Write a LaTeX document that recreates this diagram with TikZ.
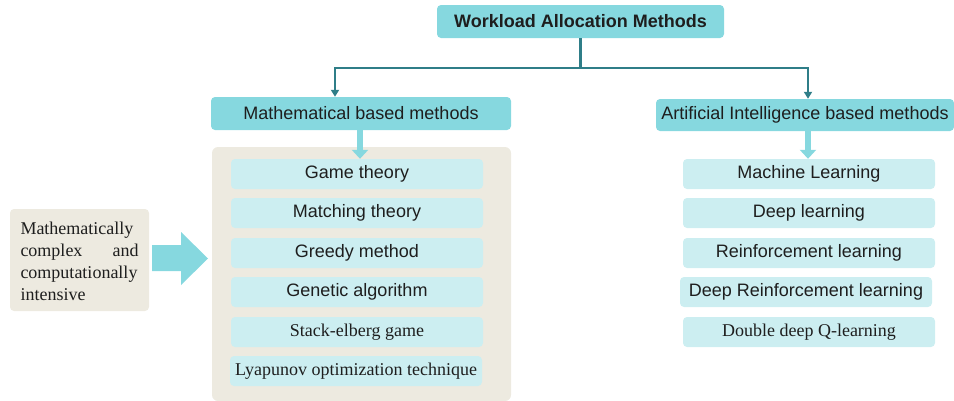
\documentclass[tikz,border=0pt]{standalone}
\usepackage{fontspec}
\setmainfont{Liberation Serif}
\newfontfamily\arialf{Liberation Sans}
\usetikzlibrary{arrows.meta}
\definecolor{headc}{HTML}{86D8DF}
\definecolor{itemc}{HTML}{CCEEF1}
\definecolor{panelc}{HTML}{EDEAE0}
\definecolor{tealc}{HTML}{2F7E88}
\definecolor{txtc}{HTML}{1E1E1E}
\tikzset{
  x=1pt, y=-1pt,
  headbox/.style={rectangle, rounded corners=4pt, fill=headc, inner sep=0pt, text=txtc, font=\arialf\fontsize{18}{21}\selectfont},
  itembox/.style={rectangle, rounded corners=4pt, fill=itemc, inner sep=0pt, minimum width=252pt, minimum height=30pt, text=txtc, font=\arialf\fontsize{18}{21}\selectfont},
  seriftext/.style={font=\fontsize{18}{21}\selectfont},
  conn/.style={draw=tealc, line width=2.8pt, -{Triangle[length=7pt,width=8pt]}},
  bigarrow/.style={draw=headc, line width=6pt, -{Triangle[length=9pt,width=16pt]}},
}
\begin{document}
\begin{tikzpicture}
\useasboundingbox (0,0) rectangle (954,400);
% header
\node[headbox, minimum width=287pt, minimum height=33pt, font=\arialf\bfseries\fontsize{18}{21}\selectfont] (top) at (580.5,21.5) {Workload Allocation Methods};
\node[headbox, minimum width=300pt, minimum height=33pt] (math) at (361,113.5) {Mathematical based methods};
\node[headbox, minimum width=298pt, minimum height=32pt] (ai) at (805,115) {Artificial Intelligence based methods};
% panel
\node[rectangle, rounded corners=6pt, fill=panelc, minimum width=299pt, minimum height=254pt, inner sep=0pt] (panel) at (361.5,274) {};
% left items
\node[itembox] (gt) at (357,174) {Game theory};
\node[itembox] (mt) at (357,213) {Matching theory};
\node[itembox] (gm) at (357,253) {Greedy method};
\node[itembox] (ga) at (357,292) {Genetic algorithm};
\node[itembox, seriftext] (se) at (357,332) {Stack-elberg game};
\node[itembox, seriftext] (ly) at (356,371) {Lyapunov optimization technique};
% right items
\node[itembox] (ml) at (809,174) {Machine Learning};
\node[itembox] (dl) at (809,213) {Deep learning};
\node[itembox] (rl) at (809,253) {Reinforcement learning};
\node[itembox] (drl) at (806,292) {Deep Reinforcement learning};
\node[itembox, seriftext] (ddq) at (809,332) {Double deep Q-learning};
% left note
\node[rectangle, rounded corners=4pt, fill=panelc, minimum width=139pt, minimum height=102pt, inner sep=0pt] (note) at (79.5,260) {};
\node[text width=118pt, align=justify, inner sep=0pt, text=txtc, font=\fontsize{18}{22}\selectfont] (notetxt) at (79.5,261.5) {\hyphenpenalty10000\relax Mathematically complex and computationally intensive};
% connectors
\coordinate (split) at (580.5,68);
\draw[draw=tealc, line width=2.8pt] (top.south) -- (split);
\draw[conn] (split) -| (math.north -| 335,0);
\draw[conn] (split) -| (ai.north -| 808,0);
\draw[bigarrow] (math.south -| 360,0) -- (gt.north -| 360,0);
\draw[bigarrow] (ai.south -| 808,0) -- (ml.north -| 808,0);
% big arrow
\fill[headc] (152,245) -- (181,245) -- (181,232) -- (208,258.5) -- (181,285) -- (181,271) -- (152,271) -- cycle;
\end{tikzpicture}
\end{document}
